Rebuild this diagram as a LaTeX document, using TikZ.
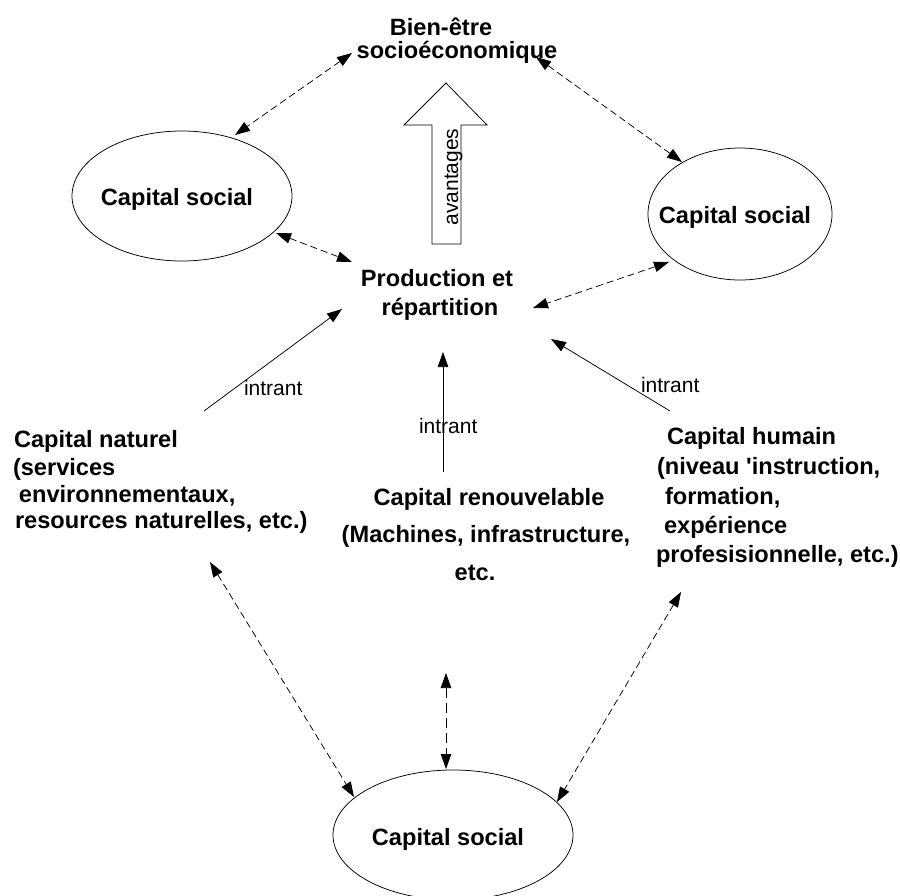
\documentclass[tikz,border=0pt]{standalone}
\usepackage{fontspec}
\setmainfont{Liberation Sans}
\usetikzlibrary{arrows.meta,shapes.geometric}
\begin{document}
\begin{tikzpicture}[x=1pt,y=-1pt,
  bt/.style={font=\fontsize{23.6}{28}\selectfont\bfseries, inner sep=0pt, outer sep=0pt, anchor=base},
  btl/.style={bt, anchor=base west},
  lab/.style={font=\fontsize{21}{24}\selectfont, inner sep=0pt, outer sep=0pt, anchor=base west},
  soc/.style={draw, ellipse, inner sep=0pt, outer sep=0pt, line width=0.75pt},
  da/.style={line width=0.75pt, dash pattern=on 7pt off 4pt, {Triangle[length=15pt,width=10.5pt]}-{Triangle[length=15pt,width=10.5pt]}},
  sa/.style={line width=0.75pt, -{Triangle[length=15pt,width=10.5pt]}}]
\useasboundingbox (0,0) rectangle (900,895);

% ellipses
\node[soc, minimum width=220pt, minimum height=130pt] (lsoc) at (182,196) {};
\node[soc, minimum width=184pt, minimum height=132pt] (rsoc) at (740,214) {};
\node[soc, minimum width=240pt, minimum height=130pt] (bsoc) at (453,835) {};
\node[bt] (lsoct) at (177,205) {Capital social};
\node[bt] (rsoct) at (735,223) {Capital social};
\node[bt] (bsoct) at (448,845) {Capital social};

% top
\node[bt] (bien1) at (441,35) {Bien-être};
\node[bt] (bien2) at (457,58) {socioéconomique};
\node[bt] (prod1) at (437,286) {Production et};
\node[bt] (prod2) at (440,315) {répartition};

% big arrow
\draw[line width=0.75pt, line join=miter] (432,244) -- (432,125) -- (404,125) -- (446,83) -- (487,125) -- (461,125) -- (461,244) -- cycle;
\node[font=\fontsize{21}{24}\selectfont, inner sep=0pt, rotate=90, anchor=base] (av) at (458,177) {avantages};

% lower texts
\node[btl] (nat1) at (14,447) {Capital naturel};
\node[btl] (nat2) at (13,475) {(services};
\node[btl] (nat3) at (19,502) {environnementaux,};
\node[btl] (nat4) at (15,528) {resources naturelles, etc.)};
\node[bt] (ren1) at (489,505) {Capital renouvelable};
\node[bt] (ren2) at (486,542) {(Machines, infrastructure,};
\node[bt] (ren3) at (475,580) {etc.};
\node[btl] (hum1) at (667,444) {Capital humain};
\node[btl] (hum2) at (657,474) {(niveau \textquotesingle instruction,};
\node[btl] (hum3) at (665,504) {formation,};
\node[btl] (hum4) at (664,533) {expérience};
\node[btl] (hum5) at (656,562) {profesisionnelle, etc.)};

% intrant labels
\node[lab] (in1) at (244,395) {intrant};
\node[lab] (in2) at (419,433) {intrant};
\node[lab] (in3) at (641,392) {intrant};

% connector ends
\coordinate (a1) at (352,53);  \coordinate (a2) at (235,135);
\coordinate (b1) at (536,57);  \coordinate (b2) at (682,162);
\coordinate (c1) at (276,233); \coordinate (c2) at (352,262);
\coordinate (d1) at (669,262); \coordinate (d2) at (533,308);
\coordinate (s1) at (204,411); \coordinate (s2) at (342,309);
\coordinate (m1) at (443,472); \coordinate (m2) at (443,352);
\coordinate (r1) at (670,411); \coordinate (r2) at (551,339);
\coordinate (e1) at (210,562); \coordinate (e2) at (354,797);
\coordinate (f1) at (446,673); \coordinate (f2) at (446,769);
\coordinate (g1) at (681,592); \coordinate (g2) at (557,802);

% dashed double arrows
\draw[da] (a1) -- (a2);
\draw[da] (b1) -- (b2);
\draw[da] (c1) -- (c2);
\draw[da] (d1) -- (d2);
\draw[da] (e1) -- (e2);
\draw[da, dash pattern=on 10pt off 5pt] (f1) -- (f2);
\draw[da] (g1) -- (g2);

% solid input arrows
\draw[sa] (s1) -- (s2);
\draw[sa] (m1) -- (m2);
\draw[sa] (r1) -- (r2);
\end{tikzpicture}
\end{document}
